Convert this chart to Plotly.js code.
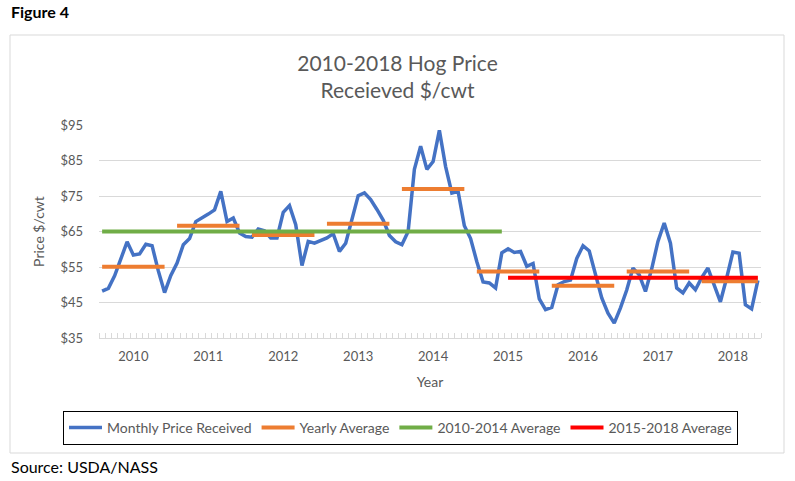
<!DOCTYPE html>
<html>
<head>
<meta charset="utf-8">
<script src="https://cdn.plot.ly/plotly-3.0.1.min.js"></script>
<style>
  html, body { margin: 0; padding: 0; background: #ffffff; }
  #chart { width: 795px; height: 481px; }
</style>
</head>
<body>
<div id="chart"></div>
<script>
// ---- data ----
const years = [2010, 2011, 2012, 2013, 2014, 2015, 2016, 2017, 2018];
const monthly2010 = [48.2, 49.0, 52.5, 57.3, 62.1, 58.4, 58.7, 61.4, 61.0, 53.9, 47.8, 52.6];
const monthly2011 = [56.1, 61.3, 63.0, 67.8, 68.8, 69.9, 71.1, 76.3, 67.8, 68.8, 64.6, 63.6];
const monthly2012 = [63.4, 65.7, 65.2, 63.2, 63.2, 70.4, 72.3, 66.9, 55.4, 62.2, 61.7, 62.5];
const monthly2013 = [63.2, 64.4, 59.4, 61.7, 68.9, 75.1, 75.9, 74.0, 71.2, 68.2, 63.9, 62.1];
const monthly2014 = [61.3, 65.0, 82.5, 89.0, 82.5, 84.7, 93.5, 83.3, 75.8, 76.3, 66.6, 63.0];
const monthly2015 = [56.5, 50.8, 50.5, 49.1, 59.0, 60.1, 59.1, 59.4, 55.2, 56.0, 46.0, 43.0];
const monthly2016 = [43.6, 50.0, 50.9, 51.3, 57.4, 61.0, 59.5, 52.7, 46.3, 42.0, 39.2, 43.5];
const monthly2017 = [48.5, 54.7, 52.8, 48.1, 54.5, 62.2, 67.4, 61.7, 49.1, 47.7, 50.5, 48.6];
const monthly2018 = [52.0, 54.7, 50.0, 45.2, 51.9, 59.2, 58.9, 44.4, 43.2, 51.2];
const yearlyAverage = [55.1, 66.6, 64.0, 67.2, 77.0, 53.7, 49.7, 53.7, 51.0];
const yearlyAverageMonthsShown = 11;           // Jan..Nov drawn for each year
const periodNames = ['2010-2014 Average', '2015-2018 Average'];
const periodValues = [65.0, 52.0];
const periodFirstMonth = ['2010-01', '2015-06'];
const periodLastMonth = ['2015-05', '2018-10'];
const yTickVals = [35, 45, 55, 65, 75, 85, 95];

// ---- build series ----
const monthlyByYear = [monthly2010, monthly2011, monthly2012, monthly2013, monthly2014,
                       monthly2015, monthly2016, monthly2017, monthly2018];
const monthLabels = [];
const monthlyPrice = [];
monthlyByYear.forEach((arr, yi) => {
  arr.forEach((v, m) => {
    monthLabels.push(years[yi] + '-' + String(m + 1).padStart(2, '0'));
    monthlyPrice.push(v);
  });
});
const idx = monthLabels.map((_, i) => i);

const yearlyY = monthLabels.map((lab, i) => {
  const yi = years.indexOf(+lab.slice(0, 4));
  const m = +lab.slice(5, 7);
  return m <= yearlyAverageMonthsShown ? yearlyAverage[yi] : null;
});

function periodSeries(p) {
  const a = monthLabels.indexOf(periodFirstMonth[p]);
  const b = monthLabels.indexOf(periodLastMonth[p]);
  return monthLabels.map((_, i) => (i >= a && i <= b) ? periodValues[p] : null);
}

const grey = '#595959';
const font = 'Lato, "Open Sans", "Liberation Sans", sans-serif';

const traces = [
  { x: idx, y: monthlyPrice, type: 'scatter', mode: 'lines', name: 'Monthly Price Received',
    line: { color: '#4472C4', width: 3.5 } },
  { x: idx, y: yearlyY, type: 'scatter', mode: 'lines', name: 'Yearly Average',
    connectgaps: false, line: { color: '#ED7D31', width: 4 } },
  { x: idx, y: periodSeries(0), type: 'scatter', mode: 'lines', name: periodNames[0],
    connectgaps: false, line: { color: '#70AD47', width: 4 } },
  { x: idx, y: periodSeries(1), type: 'scatter', mode: 'lines', name: periodNames[1],
    connectgaps: false, line: { color: '#FF0000', width: 4 } }
];

const yearTickVals = years.map((y) => monthLabels.indexOf(y + '-06'));

const layout = {
  width: 795, height: 481,
  paper_bgcolor: '#ffffff', plot_bgcolor: '#ffffff',
  margin: { l: 99, r: 34, t: 125, b: 143 },
  font: { family: font, color: grey, size: 13 },
  showlegend: true,
  title: {
    text: '2010-2018 Hog Price<br>Receieved $/cwt',
    font: { family: font, size: 21, color: grey },
    x: 0.5, xref: 'container', xanchor: 'center',
    y: 1 - 71 / 481, yref: 'container', yanchor: 'top'
  },
  xaxis: {
    range: [-0.5, monthLabels.length - 0.5],
    tickmode: 'array', tickvals: yearTickVals, ticktext: years.map(String),
    ticks: '', showgrid: false, zeroline: false,
    showline: true, linecolor: '#d9d9d9', linewidth: 1,
    tickfont: { family: font, size: 13, color: grey },
    ticklabelstandoff: 6,
    minor: { ticks: 'inside', tickmode: 'linear', tick0: -0.5, dtick: 1,
             ticklen: 5, tickcolor: '#d9d9d9', tickwidth: 1, showgrid: false },
    title: { text: 'Year', font: { family: font, size: 14, color: grey }, standoff: 14 },
    fixedrange: true
  },
  yaxis: {
    range: [35, 95],
    tickmode: 'array', tickvals: yTickVals, ticktext: yTickVals.map(v => '$' + v),
    showgrid: true, gridcolor: '#d9d9d9', gridwidth: 1,
    zeroline: false, showline: false, ticks: '',
    tickfont: { family: font, size: 13, color: grey },
    ticklabelstandoff: 15,
    title: { text: 'Price $/cwt', font: { family: font, size: 14, color: grey }, standoff: 12 },
    fixedrange: true
  },
  legend: {
    orientation: 'h',
    x: (63 - 99) / 662, xanchor: 'left', xref: 'paper',
    y: (338 - 411) / 213, yanchor: 'top', yref: 'paper',
    bordercolor: '#000000', borderwidth: 1,
    font: { family: font, size: 14, color: grey },
    itemwidth: 33, traceorder: 'normal'
  },
  shapes: [
    { type: 'rect', xref: 'paper', yref: 'paper',
      x0: (10 - 99) / 662, x1: (784 - 99) / 662,
      y0: (338 - 453) / 213, y1: (338 - 35) / 213,
      line: { color: '#d9d9d9', width: 1 }, fillcolor: 'rgba(0,0,0,0)', layer: 'below' }
  ],
  annotations: [
    { text: '<b>Figure 4</b>', xref: 'paper', yref: 'paper',
      x: (9 - 99) / 662, y: (338 - 12) / 213, xanchor: 'left', yanchor: 'middle',
      showarrow: false, font: { family: font, size: 16, color: '#000000' } },
    { text: 'Source: USDA/NASS', xref: 'paper', yref: 'paper',
      x: (9 - 99) / 662, y: (338 - 466) / 213, xanchor: 'left', yanchor: 'middle',
      showarrow: false, font: { family: font, size: 16, color: '#000000' } }
  ]
};

Plotly.newPlot('chart', traces, layout, { displayModeBar: false, staticPlot: true });
</script>
</body>
</html>
